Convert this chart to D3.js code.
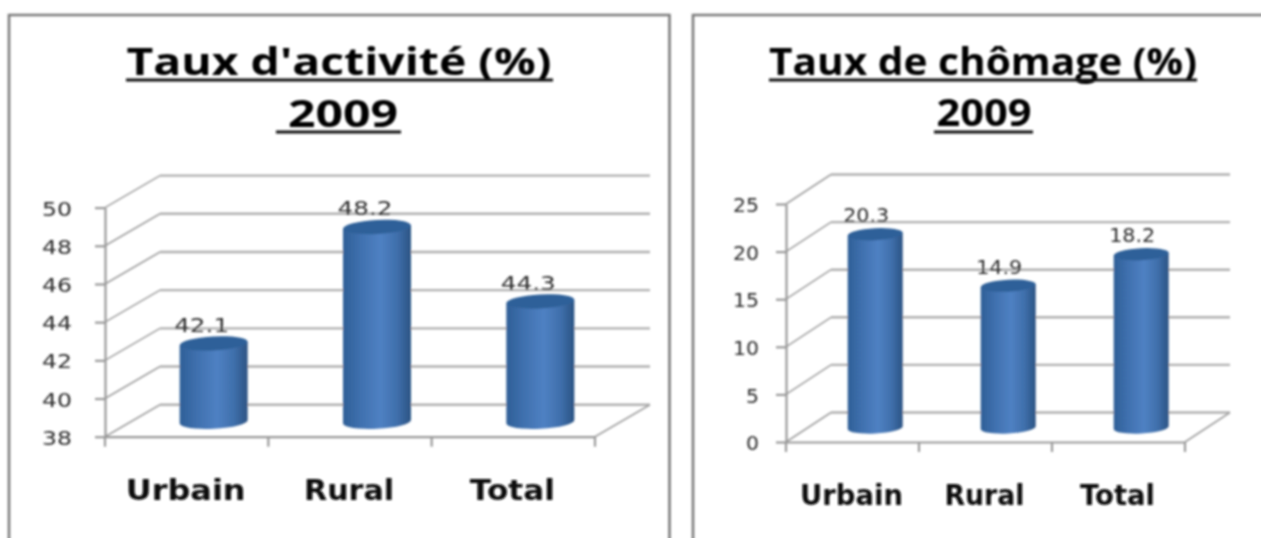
<!DOCTYPE html>
<html><head><meta charset="utf-8">
<script src="https://cdn.jsdelivr.net/npm/d3@7"></script>
<style>html,body{margin:0;padding:0;background:#fff;overflow:hidden}svg{display:block}</style>
</head><body><svg id="c" width="1261" height="538"></svg>
<script>
const categories = ["Urbain", "Rural", "Total"];
const activityValues = [42.1, 48.2, 44.3];
const unemploymentValues = [20.3, 14.9, 18.2];
const activityTicks = [38, 40, 42, 44, 46, 48, 50];
const unemploymentTicks = [0, 5, 10, 15, 20, 25];
const activityTitle = ["Taux d'activité (%)", "2009"];
const unemploymentTitle = ["Taux de chômage (%)", "2009"];

const svg = d3.select("#c");
const defs = svg.append("defs");
const blur = defs.append("filter").attr("id", "soft").attr("x", "-2%").attr("y", "-2%").attr("width", "104%").attr("height", "104%");
blur.append("feGaussianBlur").attr("stdDeviation", 0.8);
const grad = defs.append("linearGradient").attr("id", "cyl");
[[0, "#2f5f97"], [0.25, "#3f70ae"], [0.55, "#4f81c3"], [0.8, "#3f6fab"], [1, "#2b5383"]].forEach(([o, c]) =>
  grad.append("stop").attr("offset", o).attr("stop-color", c));

const root = svg.append("g").attr("filter", "url(#soft)");
const TILT = 3;

function panel(cfg) {
  const g = root.append("g");
  const f = cfg.frame;
  g.append("path")
    .attr("d", `M${f.x0},545V${f.y}H${f.x1}${f.closed ? "V545" : ""}`)
    .attr("fill", "none").attr("stroke", "#7c7c7c").attr("stroke-width", 2.6);

  cfg.title.forEach((t, i) => {
    g.append("text").attr("x", cfg.titleX[i]).attr("y", cfg.titleY[i])
      .attr("text-anchor", "middle").attr("font-family", "'Open Sans'").attr("font-weight", 700)
      .attr("font-size", 38).attr("fill", "#050505").attr("textLength", cfg.titleLen[i])
      .attr("lengthAdjust", "spacingAndGlyphs").text(t);
    g.append("rect").attr("x", cfg.lineX[i][0]).attr("y", cfg.lineY[i] - 1.5)
      .attr("width", cfg.lineX[i][1] - cfg.lineX[i][0]).attr("height", 3).attr("fill", "#111");
  });

  const y = d3.scaleLinear().domain(d3.extent(cfg.ticks)).range([cfg.yBottom, cfg.yTop]);
  const x = d3.scaleBand().domain(categories).range([cfg.xLeft, cfg.xRight]);
  const {dx, dy} = cfg;
  const grid = "#b0b0b0", depth = "#a0a0a0", axisC = "#999";

  cfg.ticks.forEach(t => {
    const py = y(t);
    g.append("path").attr("d", `M${cfg.xLeft + dx},${py - dy}H${cfg.xRight + dx}`)
      .attr("fill", "none").attr("stroke", grid).attr("stroke-width", 2.4);
    g.append("path").attr("d", `M${cfg.xLeft},${py}L${cfg.xLeft + dx},${py - dy}`)
      .attr("fill", "none").attr("stroke", depth).attr("stroke-width", 1.6);
  });
  g.append("path")
    .attr("d", `M${cfg.xRight},${cfg.yBottom}L${cfg.xRight + dx},${cfg.yBottom - dy}`)
    .attr("fill", "none").attr("stroke", depth).attr("stroke-width", 1.6);

  const axisY = g.append("g").attr("transform", `translate(${cfg.xLeft},0)`)
    .call(d3.axisLeft(y).tickValues(cfg.ticks).tickSize(10).tickSizeOuter(0).tickPadding(cfg.tickPad).tickFormat(d3.format("d")));
  axisY.selectAll("line").attr("stroke", axisC).attr("stroke-width", 2.2);
  axisY.select(".domain").attr("stroke", axisC).attr("stroke-width", 2.2);
  axisY.selectAll("text").attr("font-family", "'DejaVu Sans'").attr("font-size", 20).attr("fill", "#2c2c2c")
    .attr("dy", "0.38em")
    .attr("textLength", d => String(d).length * cfg.digitW).attr("lengthAdjust", "spacingAndGlyphs");

  const axisX = g.append("g").attr("transform", `translate(0,${cfg.yBottom})`)
    .call(d3.axisBottom(x).tickSize(0).tickFormat(""));
  axisX.select(".domain").attr("stroke", axisC).attr("stroke-width", 2.2);
  [...categories.map(c => x(c)), cfg.xRight].forEach(px => {
    axisX.append("line").attr("x1", px).attr("x2", px).attr("y1", 0).attr("y2", 10)
      .attr("stroke", axisC).attr("stroke-width", 2.2);
  });

  const base = cfg.yBottom - cfg.baseShift;
  const barY = v => y(v) - cfg.baseShift;
  const cx = i => x(categories[i]) + x.bandwidth() / 2 + cfg.barShift;
  const w = cfg.barW / 2, ry = cfg.ry;
  const t = w * Math.sin(TILT * Math.PI / 180);
  const bars = g.selectAll(".bar").data(cfg.values).join("g").attr("class", "bar");
  bars.append("path").attr("fill", "url(#cyl)").attr("d", (v, i) =>
    `M${cx(i) - w},${barY(v) + t}V${base + t}A${w},${ry} ${-TILT} 0 0 ${cx(i) + w},${base - t}V${barY(v) - t}Z`);
  bars.append("ellipse").attr("fill", "#2f6199")
    .attr("cx", (v, i) => cx(i)).attr("cy", barY).attr("rx", w).attr("ry", ry)
    .attr("transform", (v, i) => `rotate(${-TILT} ${cx(i)} ${barY(v)})`);
  bars.append("text")
    .attr("x", (v, i) => cx(i) + cfg.labelShift)
    .attr("y", v => barY(v) - cfg.labelGap)
    .attr("text-anchor", "middle").attr("font-family", "'DejaVu Sans'").attr("font-size", 20).attr("fill", "#2c2c2c")
    .attr("textLength", cfg.labelW).attr("lengthAdjust", "spacingAndGlyphs")
    .text(v => d3.format(".1f")(v));

  g.selectAll(".cat").data(categories).join("text").attr("class", "cat")
    .attr("x", c => x(c) + x.bandwidth() / 2 - 1).attr("y", cfg.catY)
    .attr("text-anchor", "middle").attr("font-family", "'DejaVu Sans'").attr("font-weight", 700)
    .attr("font-size", 28).attr("fill", "#0c0c0c")
    .attr("textLength", (c, i) => cfg.catW[i]).attr("lengthAdjust", "spacingAndGlyphs").text(c => c);
}

panel({
  frame: {x0: 9, x1: 669.5, y: 15, closed: true},
  title: activityTitle, titleX: [339, 343], titleY: [75, 127], titleLen: [425, 110],
  lineX: [[126, 553], [276, 401]], lineY: [80, 132],
  ticks: activityTicks, values: activityValues,
  xLeft: 105, xRight: 595, yBottom: 436.7, yTop: 207.6, dx: 55, dy: 32, tickPad: 23, digitW: 15,
  baseShift: 15, barW: 68, ry: 7, barShift: 27, labelShift: -12, labelGap: 11.5, labelW: 55,
  catW: [120, 90, 85], catY: 500
});
panel({
  frame: {x0: 693, x1: 1265, y: 15, closed: false},
  title: unemploymentTitle, titleX: [983, 984], titleY: [75, 126], titleLen: [428, 95],
  lineX: [[769, 1197], [934, 1033]], lineY: [80, 132],
  ticks: unemploymentTicks, values: unemploymentValues,
  xLeft: 786, xRight: 1185, yBottom: 442, yTop: 204, dx: 45, dy: 29.5, tickPad: 17, digitW: 13,
  baseShift: 14.5, barW: 55, ry: 6, barShift: 22.7, labelShift: -9, labelGap: 12, labelW: 46,
  catW: [103, 80, 75], catY: 505
});
</script></body></html>
